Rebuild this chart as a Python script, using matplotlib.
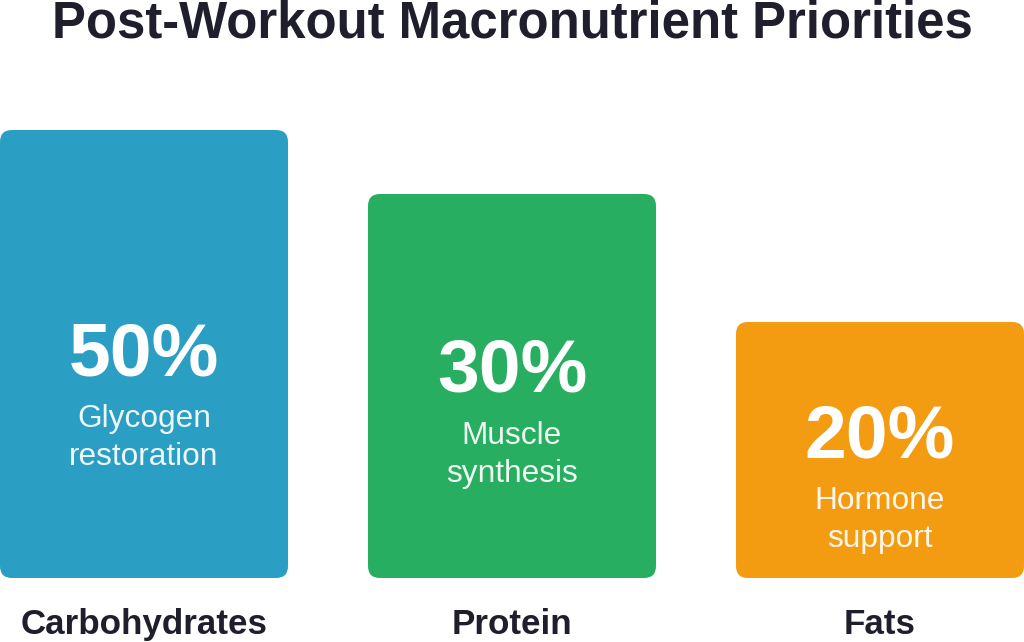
import matplotlib
matplotlib.use('Agg')
import matplotlib.pyplot as plt
from matplotlib.patches import FancyBboxPatch

# --- data ---
categories = ['Carbohydrates', 'Protein', 'Fats']
percents = [50, 30, 20]
bar_heights = [70, 60, 40]          # relative card heights
descriptions = ['Glycogen\nrestoration', 'Muscle\nsynthesis', 'Hormone\nsupport']
colors = ['#2b9ec4', '#27ae60', '#f39c12']
title = 'Post-Workout Macronutrient Priorities'

# --- layout (dpi 72 so 1 pt == 1 px) ---
DPI = 72
W, H = 1024, 642
PX_X = 368.0      # px per category step
PX_Y = 6.4        # px per height unit
BAR_W = 288 / PX_X
RADIUS = 12
TEXT_DARK = '#1e1e2d'

plt.rcParams['font.family'] = ['Liberation Sans', 'DejaVu Sans']

fig = plt.figure(figsize=(W / DPI, H / DPI), dpi=DPI)
fig.patch.set_facecolor('white')
ax = fig.add_axes([0, 0, 1, 1])
ax.set_xlim(-144 / PX_X, (W - 144) / PX_X)
ax.set_ylim(-64 / PX_Y, (H - 64) / PX_Y)
ax.axis('off')

pct_shift = [21, 6, 7]   # baseline of the big number below card centre, px

for i, (cat, pct, h, desc, col) in enumerate(zip(categories, percents, bar_heights, descriptions, colors)):
    card = FancyBboxPatch((i - BAR_W / 2, 0), BAR_W, h,
                          boxstyle=f'round,pad=0,rounding_size={RADIUS / PX_X}',
                          mutation_aspect=PX_X / PX_Y,
                          facecolor=col, edgecolor='none')
    ax.add_patch(card)

    base = -pct_shift[i]
    ax.annotate(f'{pct}%', xy=(i, h / 2), xytext=(0, base), textcoords='offset points',
                ha='center', va='baseline', fontsize=75, fontweight='bold', color='white')
    for k, line in enumerate(desc.split('\n')):
        ax.annotate(line, xy=(i, h / 2), xytext=(0, base - 52 - 38 * k), textcoords='offset points',
                    ha='center', va='baseline', fontsize=31.6, color='white', alpha=0.92)

    ax.annotate(cat, xy=(i, 0), xytext=(0, -56), textcoords='offset points',
                ha='center', va='baseline', fontsize=35, fontweight='bold', color=TEXT_DARK)

fig.text(0.5, 1 - 37 / H, title, ha='center', va='baseline',
         fontsize=50.9, fontweight='bold', color=TEXT_DARK)

fig.savefig('out.png', dpi=DPI, facecolor='white')
